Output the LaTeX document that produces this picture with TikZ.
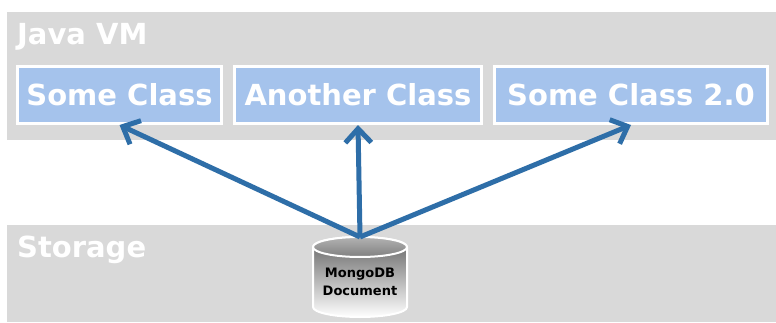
\documentclass[tikz,border=0pt]{standalone}
\usepackage{fontspec}
\setmainfont{DejaVu Sans}
\usetikzlibrary{arrows.meta}
\definecolor{band}{RGB}{217,217,217}
\definecolor{boxblue}{RGB}{165,195,236}
\definecolor{arrowblue}{RGB}{46,110,168}
\tikzset{
  bandtitle/.style={anchor=base west, text=white, font=\bfseries\fontsize{29}{34}\selectfont, inner sep=0pt},
  classbox/.style={draw=white, line width=3pt, fill=boxblue, text=white, minimum height=57pt, inner sep=0pt,
    font=\bfseries\fontsize{29}{34}\selectfont},
  link/.style={draw=arrowblue, line width=5pt, -{Straight Barb[length=14pt,width=26pt,line width=5pt]}}
}
\begin{document}
\begin{tikzpicture}[x=1pt,y=1pt]
\useasboundingbox (0,0) rectangle (776,322);
\fill[white] (0,0) rectangle (776,322);
% bands
\fill[band] (7,182) rectangle (776,310);
\fill[band] (7,0) rectangle (776,97);
\node[bandtitle] (jvm) at (17,277) {Java VM};
\node[bandtitle] (storage) at (17,65) {Storage};
% class boxes
\node[classbox, minimum width=204pt] (b1) at (119.5,227) {Some Class};
\node[classbox, minimum width=247pt] (b2) at (358,227) {Another Class};
\node[classbox, minimum width=273pt] (b3) at (631,227) {Some Class 2.0};
% cylinder
\shade[top color=black!62, bottom color=white, draw=white, line width=2pt]
  (313,75) -- (313,15) arc[start angle=180, end angle=360, x radius=47, y radius=10] -- (407,75)
  arc[start angle=0, end angle=180, x radius=47, y radius=10] -- cycle;
\shade[top color=black!30, bottom color=black!50, draw=white, line width=2pt]
  (360,75) ellipse[x radius=47, y radius=10];
\node[font=\bfseries\fontsize{13}{18}\selectfont, align=center, text=black] (doc) at (360,40) {MongoDB\\Document};
\coordinate (src) at (360,85);
% links
\draw[link] (src) -- (b1.south);
\draw[link] (src) -- (b2.south);
\draw[link] (src) -- (b3.south);
\end{tikzpicture}
\end{document}
